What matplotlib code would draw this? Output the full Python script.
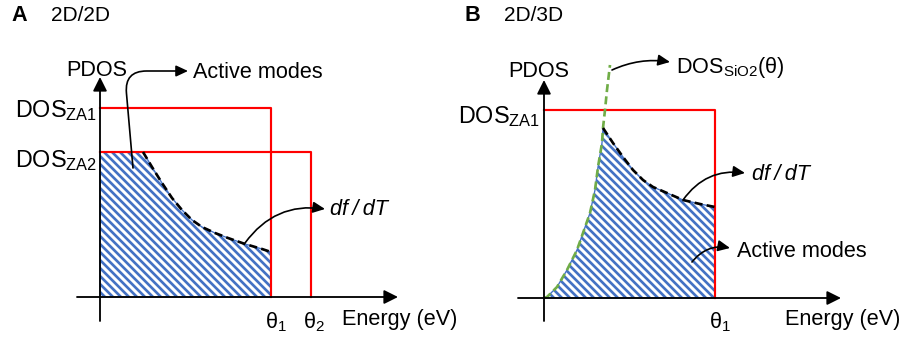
import matplotlib
matplotlib.use("Agg")
import matplotlib.pyplot as plt
from matplotlib.patches import Polygon

# schematic units: 1 unit = 1 px of the 902x337 image, origin at the axis crossing

# panel A (2D/2D)
a_theta = [171, 211]            # theta_1, theta_2
a_dos = [189, 145]              # DOS_ZA1, DOS_ZA2
a_dfdt_x = [43, 52, 62, 72, 82, 92, 102, 115, 128, 145, 162, 171]
a_dfdt_y = [145, 130, 114, 99, 87, 77, 70, 64, 59, 53, 48, 45]

# panel B (2D/3D)
b_theta = [171]
b_dos = [188]
b_sio2_x = [0, 3, 13, 23, 33, 39, 46, 51, 54, 58, 59, 61, 63, 66]
b_sio2_y = [0, 1, 11, 28, 48, 65, 85, 108, 131, 155, 170, 188, 208, 233]
b_dfdt_x = [59, 69, 79, 89, 99, 109, 123, 139, 156, 171]
b_dfdt_y = [170, 155, 141, 128, 118, 111, 105, 98, 94, 91]

BLUE = "#4472C4"
RED = "#FF0000"
GREEN = "#70AD47"

plt.rcParams["font.family"] = ["Liberation Sans", "DejaVu Sans"]
plt.rcParams["mathtext.fontset"] = "custom"
plt.rcParams["mathtext.rm"] = "Liberation Sans"
plt.rcParams["mathtext.it"] = "Liberation Sans:italic"
plt.rcParams["mathtext.bf"] = "Liberation Sans:bold"
plt.rcParams["mathtext.default"] = "regular"
plt.rcParams["hatch.linewidth"] = 1.6
plt.rcParams["hatch.color"] = BLUE

DPI = 120
fig = plt.figure(figsize=(902 / DPI, 337 / DPI), dpi=DPI)

ax_a = fig.add_axes([0, 0, 450 / 902, 1])
ax_a.set_xlim(-100, 350)
ax_a.set_ylim(-40, 297)
ax_b = fig.add_axes([450 / 902, 0, 452 / 902, 1])
ax_b.set_xlim(-94, 358)
ax_b.set_ylim(-39, 298)


def draw_axes(ax, x0, x1, y0, y1):
    style = "-|>,head_length=0.7,head_width=0.35"
    for start, end in [((x0, 0), (x1, 0)), ((0, y0), (0, y1))]:
        ax.annotate("", xy=end, xytext=start,
                    arrowprops=dict(arrowstyle=style, color="black", lw=1.1,
                                    shrinkA=0, shrinkB=0, mutation_scale=10))


def pointer(ax, start, end, conn):
    ax.annotate("", xy=end, xytext=start,
                arrowprops=dict(arrowstyle="-|>,head_length=0.6,head_width=0.28",
                                color="black", lw=1.0, connectionstyle=conn,
                                shrinkA=0, shrinkB=0, mutation_scale=10))


def hatch_area(ax, xs, ys):
    pts = [(0, 0)] + list(zip(xs, ys)) + [(xs[-1], 0)]
    ax.add_patch(Polygon(pts, closed=True, facecolor="white", edgecolor=BLUE,
                         hatch="\\" * 5, lw=0.8, zorder=1))


# ---- panel A ----
ax = ax_a
hatch_area(ax, [0] + a_dfdt_x, [a_dos[1]] + a_dfdt_y)
ax.plot([0, a_theta[0], a_theta[0]], [a_dos[0], a_dos[0], 0], color=RED, lw=1.3, zorder=2)
ax.plot([0, a_theta[1], a_theta[1]], [a_dos[1], a_dos[1], 0], color=RED, lw=1.3, zorder=2)
ax.plot(a_dfdt_x, a_dfdt_y, color="black", lw=1.6, ls=(0, (3, 1.6)), zorder=3)
draw_axes(ax, -23, 298, -24, 220)

ax.text(-89, 276, "A", fontsize=13, fontweight="bold", va="baseline")
ax.text(-49, 276, "2D/2D", fontsize=12.5, va="baseline")
ax.text(-3, 221, "PDOS", fontsize=13, ha="center", va="baseline")
ax.text(-3, 180, "DOS$_{ZA1}$", fontsize=14, ha="right", va="baseline")
ax.text(-3, 130, "DOS$_{ZA2}$", fontsize=14, ha="right", va="baseline")
ax.text(93, 219, "Active modes", fontsize=13, va="baseline")
ax.text(230, 82, "df\u2009/\u2009dT", fontsize=13, style="italic", va="baseline")
ax.text(165, -31, "θ$_1$", fontsize=13, va="baseline")
ax.text(203, -31, "θ$_2$", fontsize=13, va="baseline")
ax.text(242, -28, "Energy (eV)", fontsize=13, va="baseline")
pointer(ax, (33, 129), (88, 226), "angle,angleA=95,angleB=0,rad=22")
pointer(ax, (145, 54), (225, 88), "arc3,rad=-0.3")

# ---- panel B ----
ax = ax_b
hatch_area(ax, b_sio2_x[:11] + b_dfdt_x[1:], b_sio2_y[:11] + b_dfdt_y[1:])
ax.plot([0, b_theta[0], b_theta[0]], [b_dos[0], b_dos[0], 0], color=RED, lw=1.3, zorder=2)
ax.plot(b_sio2_x, b_sio2_y, color=GREEN, lw=1.6, ls=(0, (3, 1.6)), zorder=3)
ax.plot(b_dfdt_x, b_dfdt_y, color="black", lw=1.6, ls=(0, (3, 1.6)), zorder=3)
draw_axes(ax, -26, 297, -23, 218)

ax.text(-79, 277, "B", fontsize=13, fontweight="bold", va="baseline")
ax.text(-40, 277, "2D/3D", fontsize=12.5, va="baseline")
ax.text(-5, 221, "PDOS", fontsize=13, ha="center", va="baseline")
ax.text(-4, 175, "DOS$_{ZA1}$", fontsize=14, ha="right", va="baseline")
ax.text(132, 225, "DOS$_{SiO2}$(θ)", fontsize=13, va="baseline")
ax.text(208, 118, "df\u2009/\u2009dT", fontsize=13, style="italic", va="baseline")
ax.text(193, 41, "Active modes", fontsize=13, va="baseline")
ax.text(165, -30, "θ$_1$", fontsize=13, va="baseline")
ax.text(241, -27, "Energy (eV)", fontsize=13, va="baseline")
pointer(ax, (68, 228), (126, 236), "arc3,rad=-0.15")
pointer(ax, (139, 98), (201, 125), "arc3,rad=-0.3")
pointer(ax, (148, 36), (186, 50), "arc3,rad=-0.3")

for a in (ax_a, ax_b):
    a.axis("off")

fig.savefig("out.png", dpi=DPI)
